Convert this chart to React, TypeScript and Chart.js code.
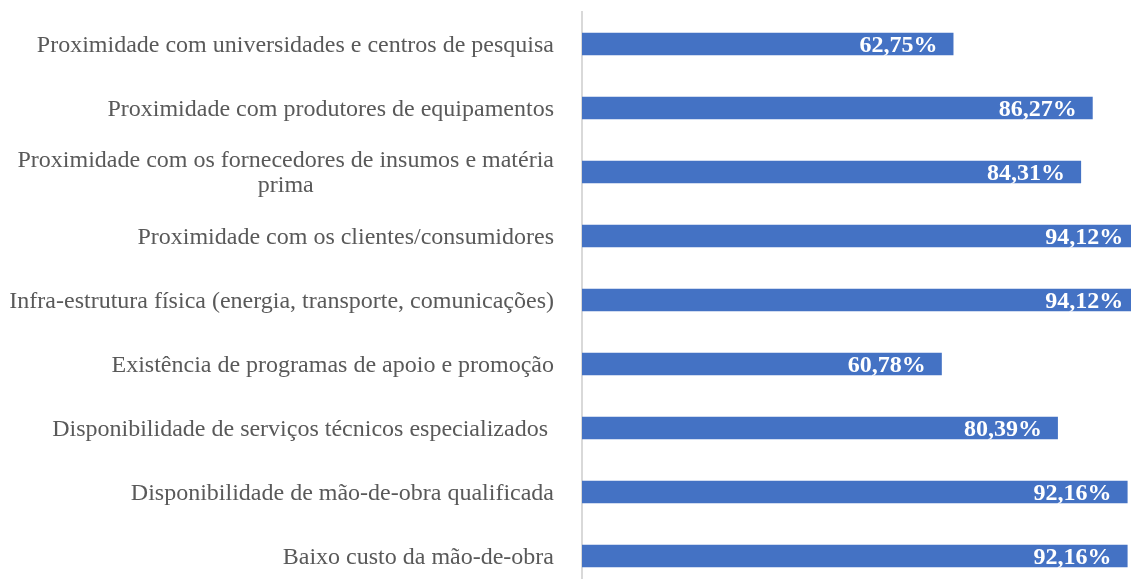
import React, { useEffect, useRef } from "react";
import { Chart, registerables } from "chart.js";

Chart.register(...registerables);

const categories: (string | string[])[] = [
  "Proximidade com universidades e centros de pesquisa",
  "Proximidade com produtores de equipamentos",
  ["Proximidade com os fornecedores de insumos e matéria", "prima"],
  "Proximidade com os clientes/consumidores",
  "Infra-estrutura física (energia, transporte, comunicações)",
  "Existência de programas de apoio e promoção",
  "Disponibilidade de serviços técnicos especializados ",
  "Disponibilidade de mão-de-obra qualificada",
  "Baixo custo da mão-de-obra",
];

const values: number[] = [62.75, 86.27, 84.31, 94.12, 94.12, 60.78, 80.39, 92.16, 92.16];

const xMin = 0;
const xMax = 100;

const SERIF = '"Liberation Serif", "Times New Roman", serif';
const BAR_COLOR = "#4472C4";
const LABEL_COLOR = "#595959";
const AXIS_COLOR = "#d9d9d9";

const CANVAS_W = 1174;
const CANVAS_H = 588;
const AXIS_W = 582;
const LABEL_RIGHT = 554;

const fmt = (v: number) => v.toFixed(2).replace(".", ",") + "%";

const categoryLabelsPlugin = {
  id: "categoryLabels",
  afterDraw(chart: any) {
    const ctx = chart.ctx;
    const yScale = chart.scales.y;
    ctx.save();
    ctx.font = `24px ${SERIF}`;
    ctx.fillStyle = LABEL_COLOR;
    ctx.textBaseline = "alphabetic";
    const lineH = 25;
    const capHalf = 7.8;
    categories.forEach((cat, i) => {
      const yc = yScale.getPixelForValue(i);
      const lines = Array.isArray(cat) ? cat : [cat];
      const top = yc - ((lines.length - 1) * lineH) / 2;
      const w0 = ctx.measureText(lines[0]).width;
      const center = LABEL_RIGHT - w0 / 2;
      lines.forEach((ln, j) => {
        const y = top + j * lineH + capHalf;
        if (j === 0) {
          ctx.textAlign = "right";
          ctx.fillText(ln, LABEL_RIGHT, y);
        } else {
          ctx.textAlign = "center";
          ctx.fillText(ln, center, y);
        }
      });
    });
    ctx.restore();
  },
};

const valueLabelsPlugin = {
  id: "valueLabels",
  afterDatasetsDraw(chart: any) {
    const ctx = chart.ctx;
    const meta = chart.getDatasetMeta(0);
    ctx.save();
    ctx.font = `bold 24px ${SERIF}`;
    ctx.fillStyle = "#ffffff";
    ctx.textAlign = "right";
    ctx.textBaseline = "alphabetic";
    meta.data.forEach((bar: any, i: number) => {
      ctx.fillText(fmt(values[i]), bar.x - 16, bar.y + 8.2);
    });
    ctx.restore();
  },
};

export default function App() {
  const ref = useRef<HTMLCanvasElement>(null);

  useEffect(() => {
    document.documentElement.style.overflow = "hidden";
    document.body.style.margin = "0";
    document.body.style.overflow = "hidden";
    const canvas = ref.current!;
    const chart = new Chart(canvas, {
      type: "bar",
      data: {
        labels: categories as any,
        datasets: [
          {
            data: values,
            backgroundColor: BAR_COLOR,
            borderWidth: 0,
            categoryPercentage: 1,
            barPercentage: 0.355,
          },
        ],
      },
      options: {
        indexAxis: "y",
        responsive: false,
        animation: false,
        devicePixelRatio: 1,
        layout: { padding: { top: 12, bottom: 0, left: 0, right: 0 } },
        plugins: {
          legend: { display: false },
          tooltip: { enabled: false },
          title: { display: false },
        },
        scales: {
          x: {
            display: false,
            min: xMin,
            max: xMax,
          },
          y: {
            display: true,
            ticks: { display: false },
            grid: { display: false, drawTicks: false },
            border: { display: true, color: AXIS_COLOR, width: 2 },
            afterFit: (s: any) => {
              s.width = AXIS_W;
            },
          },
        },
      },
      plugins: [categoryLabelsPlugin, valueLabelsPlugin],
    });
    return () => chart.destroy();
  }, []);

  return (
    <div style={{ position: "fixed", left: 0, top: 0, width: CANVAS_W, height: CANVAS_H }}>
      <canvas ref={ref} width={CANVAS_W} height={CANVAS_H} style={{ display: "block" }} />
    </div>
  );
}
